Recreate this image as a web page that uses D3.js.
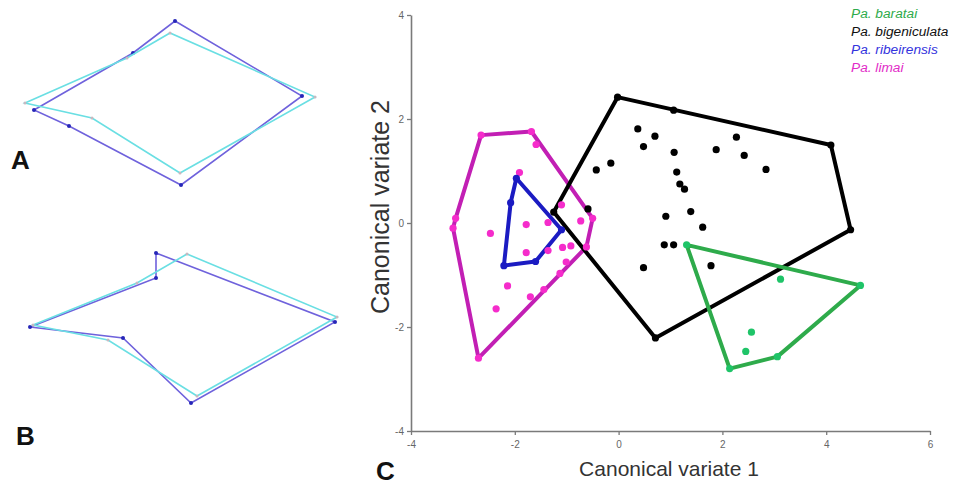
<!DOCTYPE html>
<html>
<head>
<meta charset="utf-8">
<script src="https://cdn.jsdelivr.net/npm/d3@7"></script>
<style>
  body { margin: 0; background: #fff; }
  svg { display: block; font-family: "Liberation Sans", Arial, sans-serif; }
</style>
</head>
<body>
<svg id="fig" width="958" height="486"></svg>
<script>
// panel A / B landmark outlines (shape units, 1 unit = 10 px)
const shapeA_mean = [[3.4, 11.0], [13.3, 5.3], [17.5, 2.1], [30.2, 9.6], [18.1, 18.5], [6.9, 12.6]]
const shapeA_cyan = [[2.5, 10.3], [12.7, 5.8], [17.0, 3.3], [31.5, 9.7], [18.0, 17.3], [9.2, 11.8]]
const shapeB_mean = [[15.6, 25.3], [33.5, 32.2], [19.1, 40.3], [12.3, 33.8], [3.0, 32.7], [15.6, 27.8]]
const shapeB_cyan = [[18.7, 25.4], [33.7, 31.7], [19.7, 39.6], [10.8, 34.0], [3.3, 32.5], [13.7, 28.3]]

// panel C scores per species
const baratai = [[1.31, -0.42], [4.66, -1.20], [3.06, -2.57], [2.14, -2.80], [3.12, -1.08], [2.56, -2.10], [2.45, -2.47]]
const bigeniculata = [[-0.02, 2.42], [1.06, 2.17], [4.09, 1.50], [4.47, -0.13], [0.71, -2.21], [-1.25, 0.21],
  [0.37, 1.81], [0.70, 1.67], [0.48, 1.47], [1.07, 1.36], [2.27, 1.65], [1.88, 1.41], [2.42, 1.30], [2.84, 1.03],
  [-0.15, 1.15], [-0.43, 1.02], [1.12, 0.98], [1.18, 0.75], [1.27, 0.65], [1.39, 0.22], [0.91, 0.13], [1.62, -0.08],
  [0.88, -0.42], [1.06, -0.42], [0.48, -0.86], [1.78, -0.82], [-0.59, 0.27]]
const ribeirensis = [[-1.97, 0.86], [-2.08, 0.39], [-1.10, -0.13], [-1.60, -0.74], [-2.21, -0.82]]
const limai = [[-2.65, 1.69], [-1.68, 1.76], [-0.50, 0.09], [-0.62, -0.46], [-2.70, -2.60], [-3.19, -0.10], [-3.14, 0.09],
  [-1.59, 1.51], [-1.91, 0.97], [-2.47, -0.20], [-1.78, -0.03], [-1.36, 0.01], [-0.73, 0.04], [-1.10, 0.35],
  [-1.78, -0.57], [-1.36, -0.53], [-1.08, -0.47], [-0.92, -0.44], [-1.01, -0.75], [-2.14, -1.21], [-1.70, -1.42],
  [-2.36, -1.65], [-1.13, -0.97], [-1.44, -1.28]]

const xTicks = [-4, -2, 0, 2, 4, 6]
const yTicks = [-4, -2, 0, 2, 4]
const speciesNames = ["Pa. baratai", "Pa. bigeniculata", "Pa. ribeirensis", "Pa. limai"]

const svg = d3.select("#fig")

// ---- panels A and B
const sx = d3.scaleLinear().domain([0, 10]).range([0, 100])
const sy = d3.scaleLinear().domain([0, 10]).range([0, 100])
const outline = d3.line().x(d => sx(d[0])).y(d => sy(d[1])).curve(d3.curveLinearClosed)

function drawShape(pts, lineColor, dotColor, dotR) {
  const g = svg.append("g")
  g.append("path")
    .attr("d", outline(pts))
    .attr("fill", "none")
    .attr("stroke", lineColor)
    .attr("stroke-width", 1.6)
  g.selectAll("circle")
    .data(pts)
    .enter()
    .append("circle")
    .attr("cx", d => sx(d[0]))
    .attr("cy", d => sy(d[1]))
    .attr("r", dotR)
    .attr("fill", dotColor)
}

drawShape(shapeA_mean, "#6f62dc", "#2626b8", 2)
drawShape(shapeA_cyan, "#6adfe3", "#c8b8c0", 1.5)
drawShape(shapeB_mean, "#6f62dc", "#2626b8", 2)
drawShape(shapeB_cyan, "#6adfe3", "#c8b8c0", 1.5)

// panel letters
const letters = [["A", 11, 169], ["B", 16, 445], ["C", 376, 480]]
svg.selectAll("text.letter")
  .data(letters)
  .enter()
  .append("text")
  .attr("class", "letter")
  .attr("x", d => d[1])
  .attr("y", d => d[2])
  .attr("font-size", 26)
  .attr("font-weight", "bold")
  .attr("fill", "#111")
  .text(d => d[0])

// ---- panel C
const x = d3.scaleLinear().domain([-4, 6]).range([411, 930])
const y = d3.scaleLinear().domain([-4, 4]).range([431, 15])

const xAxis = svg.append("g")
  .attr("transform", `translate(0,${y(-4)})`)
  .call(d3.axisBottom(x).tickValues(xTicks).tickFormat(d => String(d))
    .tickSize(4).tickSizeOuter(0).tickPadding(6))
const yAxis = svg.append("g")
  .attr("transform", `translate(${x(-4)},0)`)
  .call(d3.axisLeft(y).tickValues(yTicks).tickFormat(d => String(d))
    .tickSize(4).tickSizeOuter(0).tickPadding(3))

for (const ax of [xAxis, yAxis]) {
  ax.select(".domain").attr("stroke", "#7a7a7a").attr("stroke-width", 1.6)
  ax.selectAll(".tick line").attr("stroke", "#7a7a7a").attr("stroke-width", 1.3)
  ax.selectAll(".tick text").attr("fill", "#666").attr("font-size", 10)
    .attr("font-family", "Liberation Sans, Arial, sans-serif")
}

svg.append("text")
  .attr("x", 669)
  .attr("y", 476)
  .attr("text-anchor", "middle")
  .attr("font-size", 21)
  .attr("fill", "#333")
  .text("Canonical variate 1")

svg.append("text")
  .attr("transform", "translate(389,207) rotate(-90)")
  .attr("text-anchor", "middle")
  .attr("font-size", 25)
  .attr("fill", "#333")
  .text("Canonical variate 2")

const groups = [
  { pts: limai, line: "#c21fb4", dot: "#f52ccb" },
  { pts: ribeirensis, line: "#1b1bc2", dot: "#1b1bc2" },
  { pts: bigeniculata, line: "#000000", dot: "#000000" },
  { pts: baratai, line: "#2eab4b", dot: "#1fc468" }
]

const hullLine = d3.line().x(d => x(d[0])).y(d => y(d[1])).curve(d3.curveLinearClosed)

groups.forEach(grp => {
  svg.append("path")
    .attr("d", hullLine(d3.polygonHull(grp.pts)))
    .attr("fill", "none")
    .attr("stroke", grp.line)
    .attr("stroke-width", 4)
    .attr("stroke-linejoin", "round")
})

groups.forEach(grp => {
  svg.append("g")
    .selectAll("circle")
    .data(grp.pts)
    .enter()
    .append("circle")
    .attr("cx", d => x(d[0]))
    .attr("cy", d => y(d[1]))
    .attr("r", 3.6)
    .attr("fill", grp.dot)
})

// legend
const legendColors = ["#2eab4b", "#111111", "#3333dd", "#e22cc8"]
svg.selectAll("text.legend")
  .data(speciesNames)
  .enter()
  .append("text")
  .attr("class", "legend")
  .attr("x", 851)
  .attr("y", (d, i) => 17.5 + i * 18)
  .attr("font-size", 13.7)
  .attr("font-style", "italic")
  .attr("fill", (d, i) => legendColors[i])
  .text(d => d)
</script>
</body>
</html>
